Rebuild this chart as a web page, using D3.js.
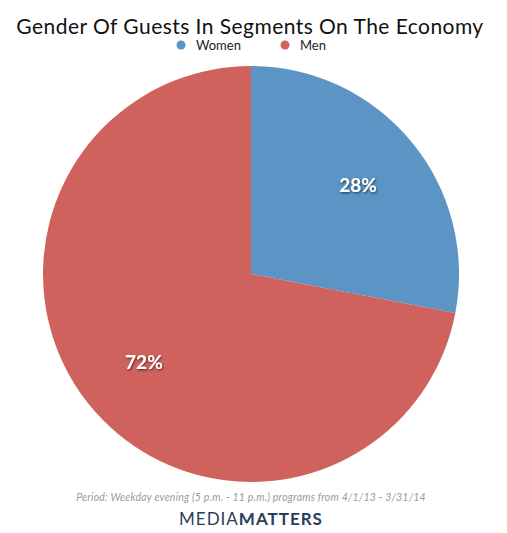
<!DOCTYPE html>
<html><head><meta charset="utf-8">
<script src="https://cdn.jsdelivr.net/npm/d3@7"></script>
<style>body{margin:0;background:#fff;}</style>
</head><body>
<svg id="chart" width="507" height="533"></svg>
<script>
const categories = ["Women", "Men"];
const values = [28, 72];
const colors = ["#5b94c5", "#cf625d"];
const title = "Gender Of Guests In Segments On The Economy";
const footnote = "Period: Weekday evening (5 p.m. - 11 p.m.) programs from 4/1/13 - 3/31/14";

const svg = d3.select("#chart");
const font = "Lato, 'Noto Sans', sans-serif";
const cx = 251, cy = 274, r = 208;

svg.append("defs").append("filter").attr("id","sh")
  .append("feDropShadow").attr("dx",0.8).attr("dy",1.2).attr("stdDeviation",0.8)
  .attr("flood-color","#000").attr("flood-opacity",0.6);

svg.append("text").attr("x",250).attr("y",34).attr("text-anchor","middle")
  .attr("font-family",font).attr("font-size",21).attr("letter-spacing",0.45)
  .attr("fill","#111").text(title);

const color = d3.scaleOrdinal().domain(categories).range(colors);
const legX = [181, 285];
const leg = svg.append("g");
categories.forEach((c,i)=>{
  leg.append("circle").attr("cx",legX[i]).attr("cy",45).attr("r",4.5).attr("fill",color(c));
  leg.append("text").attr("x",legX[i]+15).attr("y",49.5).attr("font-family",font)
    .attr("font-size",13).attr("fill","#222").text(c);
});

const pie = d3.pie().sort(null).value(d=>d);
const arc = d3.arc().innerRadius(0).outerRadius(r);
const labelArc = d3.arc().innerRadius(139).outerRadius(139);
const arcs = pie(values);
const g = svg.append("g").attr("transform",`translate(${cx},${cy})`);
g.selectAll("path").data(arcs).join("path")
  .attr("d",arc).attr("fill",(d,i)=>color(categories[i]));
g.selectAll("text").data(arcs).join("text")
  .attr("transform",d=>`translate(${labelArc.centroid(d)})`)
  .attr("text-anchor","middle").attr("dy","0.35em")
  .attr("font-family",font).attr("font-weight","bold").attr("font-size",19)
  .attr("fill","#fff").attr("filter","url(#sh)")
  .text(d=>d.value+"%");

svg.append("text").attr("x",251).attr("y",501).attr("text-anchor","middle")
  .attr("font-family",font).attr("font-style","italic").attr("font-size",10.5)
  .attr("letter-spacing",0.2).attr("fill","#9a9a9a").text(footnote);

const mm = svg.append("text").attr("x",251).attr("y",525).attr("text-anchor","middle")
  .attr("font-family",font).attr("font-size",17).attr("fill","#2c3d5a").attr("letter-spacing",1);
mm.append("tspan").text("MEDIA");
mm.append("tspan").attr("font-weight","bold").text("MATTERS");
</script>
</body></html>
